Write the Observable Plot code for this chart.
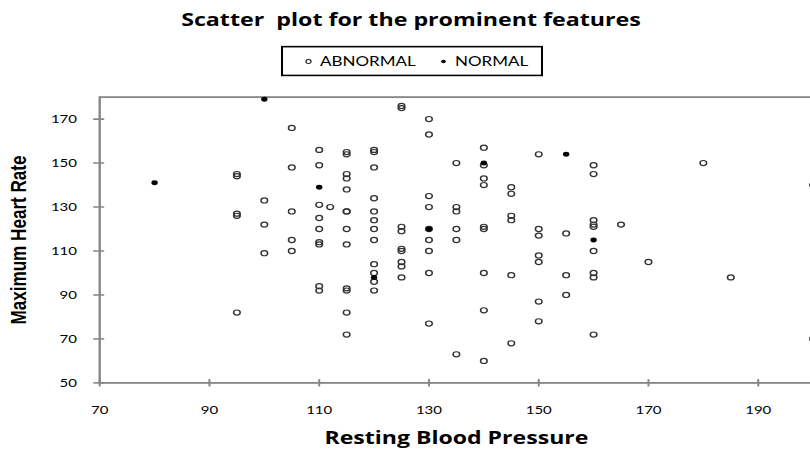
<!DOCTYPE html>
<html>
<head>
<meta charset="utf-8">
<script src="https://cdn.jsdelivr.net/npm/d3@7"></script>
<script src="https://cdn.jsdelivr.net/npm/@observablehq/plot@0.6"></script>
<style>
  html, body { margin: 0; padding: 0; background: #fff; overflow: hidden; }
  #stage { position: relative; width: 810px; height: 580px; transform: scaleY(0.7776); transform-origin: 0 0; font-family: Lato, sans-serif; color: #000; }
  #title { position: absolute; left: 0; top: 10px; width: 822px; text-align: center; font-family: 'Open Sans', sans-serif; font-weight: bold; font-size: 23px; white-space: pre; }
  #title span { white-space: pre; }
  #legend { position: absolute; left: 280.5px; top: 58.7px; width: 262px; height: 39px; box-sizing: border-box; border: 2px solid #000; }
  #legend span { position: absolute; top: 0; line-height: 35px; font-size: 17px; white-space: nowrap; }
  #legend svg { position: absolute; top: 0; left: 0; }
  #chart { position: absolute; left: 0; top: 100px; }
</style>
</head>
<body>
<div id="stage">
  <div id="title"><span></span></div>
  <div id="legend"></div>
  <div id="chart"></div>
</div>
<script>
// ---- data ----
const titleText = "Scatter  plot for the prominent features";
const xLabel = "Resting Blood Pressure";
const yLabel = "Maximum Heart Rate";
const seriesNames = ["ABNORMAL", "NORMAL"];
const xTicks = [70, 90, 110, 130, 150, 170, 190];
const yTicks = [50, 70, 90, 110, 130, 150, 170];

const abnormalBP = [
  95, 95, 95, 95, 95,
  100, 100, 100,
  105, 105, 105, 105, 105,
  110, 110, 110, 110, 110, 110, 110, 110, 110,
  112,
  115, 115, 115, 115, 115, 115, 115, 115, 115, 115, 115, 115, 115,
  120, 120, 120, 120, 120, 120, 120, 120, 120, 120, 120, 120,
  125, 125, 125, 125, 125, 125, 125, 125, 125,
  130, 130, 130, 130, 130, 130, 130, 130, 130,
  135, 135, 135, 135, 135, 135,
  140, 140, 140, 140, 140, 140, 140, 140, 140,
  145, 145, 145, 145, 145, 145,
  150, 150, 150, 150, 150, 150, 150,
  155, 155, 155,
  160, 160, 160, 160, 160, 160, 160, 160, 160,
  165, 170, 180, 185,
  200, 200
];
const abnormalHR = [
  145, 144, 127, 126, 82,
  133, 122, 109,
  166, 148, 128, 115, 110,
  156, 149, 131, 125, 120, 114, 113, 94, 92,
  130,
  155, 154, 145, 143, 138, 128, 128, 120, 113, 93, 92, 82, 72,
  156, 155, 148, 134, 128, 124, 120, 115, 104, 100, 96, 92,
  176, 175, 121, 119, 111, 110, 105, 103, 98,
  170, 163, 135, 130, 120, 115, 110, 100, 77,
  150, 130, 128, 120, 115, 63,
  157, 149, 143, 140, 121, 120, 100, 83, 60,
  139, 136, 126, 124, 99, 68,
  154, 120, 117, 108, 105, 87, 78,
  118, 99, 90,
  149, 145, 124, 122, 121, 110, 100, 98, 72,
  122, 105, 150, 98,
  140, 70
];
const normalBP = [80, 100, 110, 120, 130, 140, 155, 160];
const normalHR = [141, 179, 139, 98, 120, 150, 154, 115];

// ---- build ----
const abnormal = abnormalBP.map((x, i) => ({x, y: abnormalHR[i]}));
const normal = normalBP.map((x, i) => ({x, y: normalHR[i]}));

// title: fit width to the reference and place baseline
const titleDiv = document.getElementById("title");
const titleSpan = titleDiv.querySelector("span");
titleSpan.textContent = titleText;
{
  let f = 23;
  titleDiv.style.fontSize = f + "px";
  const w = titleSpan.getBoundingClientRect().width;
  f = f * 460 / w;
  titleDiv.style.fontSize = f + "px";
  titleDiv.style.lineHeight = (1.362 * f) + "px";
  titleDiv.style.top = (34.3 - 1.069 * f) + "px";
}

// legend
const legend = document.getElementById("legend");
legend.innerHTML =
  `<svg width="258" height="35"><circle cx="25.5" cy="18" r="2.6" fill="none" stroke="#222" stroke-width="1.2"></circle>` +
  `<circle cx="160.5" cy="18" r="2.3" fill="#000"></circle></svg>`;
const s1 = document.createElement("span"); s1.style.left = "37.5px"; s1.textContent = seriesNames[0];
const s2 = document.createElement("span"); s2.style.left = "172.5px"; s2.textContent = seriesNames[1];
legend.appendChild(s1); legend.appendChild(s2);

const gray = "#878787";
const chart = Plot.plot({
  width: 810,
  height: 480,
  marginTop: 24.4,
  marginBottom: 88.1,
  marginLeft: 99.2,
  marginRight: -2.6,
  style: {fontFamily: "Lato, sans-serif", fontSize: "15px", color: "#000", background: "transparent", overflow: "hidden"},
  x: {domain: [70, 200]},
  y: {domain: [50, 180]},
  marks: [
    Plot.frame({stroke: gray, strokeWidth: 2.4}),
    Plot.axisX(xTicks, {tickSize: 9.5, dy: -4.4, tickPadding: 23.85, stroke: gray, strokeWidth: 2, fill: "#000", label: null}),
    Plot.axisY(yTicks, {tickSize: 11, dx: 5, tickPadding: 16.7, stroke: gray, strokeWidth: 2, fill: "#000", label: null}),
    Plot.dot(abnormal, {x: "x", y: "y", r: 3.3, stroke: "#333", strokeWidth: 1.5, fill: "none"}),
    Plot.dot(normal, {x: "x", y: "y", r: 3.2, fill: "#000", stroke: null}),
    Plot.text([yLabel], {frameAnchor: "left", textAnchor: "middle", lineAnchor: "middle", dx: -80.4, rotate: -90, fontWeight: "bold", fontFamily: "'Liberation Sans', Arial, sans-serif", fontSize: 22, fill: "#000"}),
    Plot.text([xLabel], {frameAnchor: "bottom", lineAnchor: "bottom", dy: 78.5, fontWeight: "bold", fontFamily: "'Open Sans', sans-serif", fontSize: 23, fill: "#000"})
  ]
});
document.getElementById("chart").appendChild(chart);

// fit x label width to the reference
for (const t of chart.querySelectorAll("text")) {
  if (t.textContent === xLabel) {
    const w = t.getComputedTextLength();
    const f = 23 * 264 / w;
    t.setAttribute("font-size", f);
    t.closest("g").setAttribute("font-size", f);
  }
}
</script>
</body>
</html>
